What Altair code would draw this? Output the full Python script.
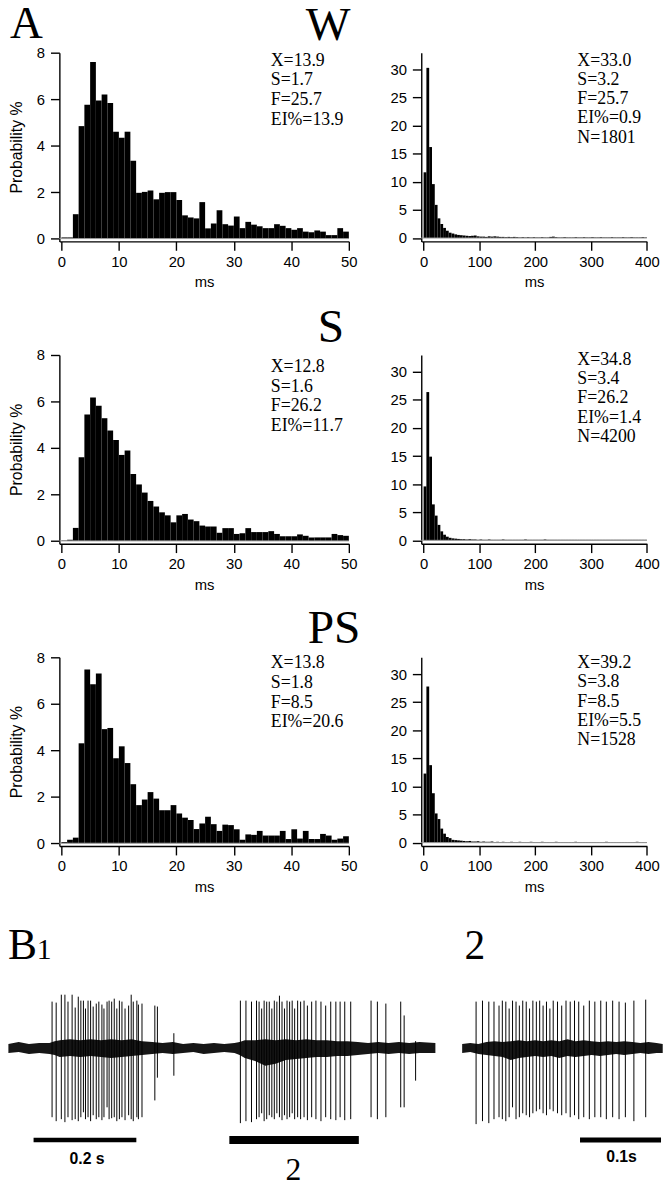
import altair as alt
import pandas as pd

# ---------------- histogram data (probability %) ----------------
SHORT_BIN_START = list(range(0, 50))          # 1 ms bins, 0-50 ms
LONG_BIN_START = list(range(0, 400, 5))       # 5 ms bins, 0-400 ms

W_SHORT = [0.05, 0.05, 1.05, 4.84, 5.76, 7.6, 5.94, 6.2, 5.83, 4.6,
           4.34, 4.6, 3.35, 1.97, 2.01, 2.07, 1.69, 1.97, 2.0, 2.0,
           1.66, 1.0, 0.91, 0.87, 1.57, 0.44, 0.65, 1.22, 0.62, 0.56,
           0.95, 0.45, 0.72, 0.6, 0.53, 0.45, 0.45, 0.62, 0.55, 0.45,
           0.38, 0.45, 0.3, 0.27, 0.35, 0.3, 0.15, 0.15, 0.45, 0.3]
S_SHORT = [0.02, 0.05, 0.56, 3.6, 5.44, 6.17, 5.82, 5.28, 4.75, 4.34,
           3.7, 3.89, 2.88, 2.43, 2.08, 1.72, 1.48, 1.23, 1.1, 0.8,
           1.1, 1.16, 0.92, 0.85, 0.66, 0.62, 0.62, 0.35, 0.55, 0.55,
           0.3, 0.33, 0.55, 0.38, 0.38, 0.38, 0.42, 0.3, 0.2, 0.2,
           0.2, 0.28, 0.22, 0.15, 0.15, 0.15, 0.15, 0.3, 0.25, 0.22]
PS_SHORT = [0.05, 0.15, 0.24, 4.3, 7.48, 6.84, 7.3, 4.91, 4.96, 3.66,
            4.17, 3.45, 2.54, 1.64, 1.88, 2.2, 1.92, 1.42, 1.42, 1.64,
            1.28, 1.1, 1.0, 0.61, 0.85, 1.14, 0.82, 0.53, 0.8, 0.78,
            0.6, 0.15, 0.38, 0.36, 0.53, 0.33, 0.33, 0.33, 0.53, 0.18,
            0.6, 0.2, 0.53, 0.18, 0.18, 0.4, 0.33, 0.15, 0.2, 0.3]

W_LONG = [11.7, 30.3, 16.2, 9.6, 5.9, 3.5, 2.5, 1.8, 1.3, 0.95,
          0.8, 0.65, 0.55, 0.5, 0.45, 0.4, 0.35, 0.4, 0.45, 0.3,
          0.25, 0.25, 0.2, 0.3, 0.25, 0.3, 0.25, 0.2, 0.2, 0.15,
          0.2, 0.15, 0.2, 0.15, 0.1, 0.15, 0.1, 0.15, 0.1, 0.15,
          0.1, 0.1, 0.15, 0.1, 0.1, 0.2, 0.25, 0.15, 0.1, 0.1,
          0.15, 0.1, 0.1, 0.1, 0.15, 0.1, 0.1, 0.15, 0.1, 0.1,
          0.15, 0.1, 0.1, 0.15, 0.1, 0.1, 0.1, 0.15, 0.1, 0.1,
          0.1, 0.15, 0.1, 0.1, 0.15, 0.1, 0.1, 0.1, 0.15, 0.1]
S_LONG = [9.6, 26.4, 14.9, 6.4, 4.4, 2.75, 1.6, 1.0, 0.65, 0.45,
          0.35, 0.3, 0.25, 0.2, 0.2, 0.15, 0.2, 0.15, 0.15, 0.1,
          0.15, 0.1, 0.1, 0.15, 0.1, 0.1, 0.1, 0.1, 0.15, 0.1,
          0.1, 0.1, 0.1, 0.1, 0.1, 0.1, 0.15, 0.1, 0.1, 0.1,
          0.1, 0.1, 0.1, 0.15, 0.1, 0.1, 0.1, 0.1, 0.1, 0.1,
          0.1, 0.1, 0.1, 0.1, 0.1, 0.1, 0.1, 0.1, 0.1, 0.1,
          0.1, 0.1, 0.1, 0.1, 0.1, 0.1, 0.1, 0.1, 0.1, 0.1,
          0.1, 0.1, 0.1, 0.1, 0.1, 0.1, 0.1, 0.1, 0.1, 0.1]
PS_LONG = [12.3, 27.8, 13.8, 8.8, 5.2, 4.2, 2.5, 1.6, 1.0, 0.8,
           0.5, 0.45, 0.4, 0.35, 0.3, 0.25, 0.3, 0.2, 0.2, 0.25,
           0.15, 0.2, 0.15, 0.15, 0.2, 0.1, 0.15, 0.1, 0.15, 0.1,
           0.1, 0.15, 0.1, 0.1, 0.15, 0.1, 0.1, 0.1, 0.15, 0.1,
           0.1, 0.1, 0.15, 0.1, 0.1, 0.1, 0.1, 0.15, 0.1, 0.1,
           0.1, 0.1, 0.1, 0.1, 0.15, 0.1, 0.1, 0.1, 0.1, 0.1,
           0.1, 0.1, 0.1, 0.1, 0.1, 0.15, 0.1, 0.1, 0.1, 0.1,
           0.1, 0.1, 0.1, 0.1, 0.1, 0.1, 0.15, 0.1, 0.1, 0.1]

GROUP_LABELS = ["W", "S", "PS"]
STATS_SHORT = ["X=13.9\nS=1.7\nF=25.7\nEI%=13.9",
               "X=12.8\nS=1.6\nF=26.2\nEI%=11.7",
               "X=13.8\nS=1.8\nF=8.5\nEI%=20.6"]
STATS_LONG = ["X=33.0\nS=3.2\nF=25.7\nEI%=0.9\nN=1801",
              "X=34.8\nS=3.4\nF=26.2\nEI%=1.4\nN=4200",
              "X=39.2\nS=3.8\nF=8.5\nEI%=5.5\nN=1528"]
SHORT_TICKS = [0, 10, 20, 30, 40, 50]
SHORT_YTICKS = [0, 2, 4, 6, 8]
LONG_TICKS = [0, 100, 200, 300, 400]
LONG_YTICKS = [0, 5, 10, 15, 20, 25, 30]

# ---------------- spike trains (B1: time s, peak, trough in trace units) ----------------
T1_SPIKE_T = [0.085, 0.093, 0.103, 0.110, 0.116, 0.124, 0.130, 0.136, 0.141, 0.146,
              0.150, 0.155, 0.160, 0.165, 0.171, 0.176, 0.182, 0.186, 0.192, 0.196,
              0.201, 0.206, 0.211, 0.216, 0.221, 0.227, 0.234, 0.239, 0.243, 0.250,
              0.253, 0.260, 0.285, 0.290, 0.322,
              0.4515, 0.4623, 0.4731, 0.4829, 0.4879, 0.4929, 0.4977, 0.5027, 0.5077, 0.5127,
              0.5175, 0.5225, 0.5275, 0.5325, 0.5373, 0.5423, 0.5473, 0.5523, 0.5571, 0.5629,
              0.5687, 0.5754, 0.5819, 0.5902, 0.5985, 0.6083, 0.6175, 0.6273, 0.6373, 0.6456,
              0.6546, 0.6662, 0.7058, 0.7181, 0.7346, 0.7635, 0.7702, 0.7925]
T1_SPIKE_UP = [47, 46, 54, 54, 47, 54, 41, 52, 48, 48,
               40, 48, 48, 42, 45, 47, 44, 40, 47, 48,
               47, 50, 40, 48, 47, 40, 43, 54, 47, 48,
               44, 45, 43, 42, 15,
               48, 48, 47, 48, 47, 40, 48, 47, 47, 40,
               48, 47, 53, 47, 40, 48, 47, 48, 40, 48,
               47, 48, 43, 47, 48, 47, 43, 47, 47, 47,
               47, 47, 48, 47, 45, 47, 33, 7]
T1_SPIKE_DOWN = [-70, -74, -72, -75, -70, -73, -72, -74, -70, -65,
                 -72, -70, -74, -68, -72, -70, -73, -70, -60, -72,
                 -71, -70, -74, -72, -70, -73, -68, -72, -74, -70,
                 -72, -70, -53, -30, -28,
                 -76, -74, -75, -72, -70, -66, -74, -72, -68, -70,
                 -72, -66, -70, -73, -68, -72, -70, -66, -72, -70,
                 -72, -70, -73, -70, -72, -74, -70, -72, -73, -70,
                 -73, -72, -70, -72, -70, -60, -60, -33]
T2_SPIKE_T = [0.0172, 0.0251, 0.0329, 0.0393, 0.0455, 0.0496, 0.0539, 0.0580, 0.0622, 0.0665,
              0.0706, 0.0748, 0.0791, 0.0832, 0.0873, 0.0916, 0.0957, 0.0999, 0.1041, 0.1083,
              0.1124, 0.1177, 0.1229, 0.1282, 0.1334, 0.1387, 0.1439, 0.1501, 0.1570, 0.1638,
              0.1711, 0.1780, 0.1858, 0.1937, 0.2015, 0.2120, 0.2266]
T2_SPIKE_UP = [47, 48, 47, 47, 43, 48, 47, 40, 48, 47,
               43, 48, 47, 40, 48, 47, 48, 43, 47, 40,
               48, 47, 43, 48, 47, 48, 47, 43, 48, 47,
               48, 47, 48, 47, 46, 48, 49]
T2_SPIKE_DOWN = [-77, -74, -76, -72, -70, -72, -74, -70, -60, -72,
                 -70, -66, -68, -70, -66, -64, -62, -66, -68, -62,
                 -64, -66, -68, -66, -70, -68, -72, -70, -72, -70,
                 -70, -72, -70, -72, -70, -74, -70]
# baseline noise envelope (time s, lower, upper)
T1_NOISE_T = [0.0, 0.02, 0.04, 0.06, 0.08, 0.09, 0.10, 0.12, 0.14, 0.16, 0.18, 0.20,
              0.22, 0.24, 0.26, 0.28, 0.30, 0.32, 0.34, 0.36, 0.38, 0.40, 0.42, 0.44,
              0.45, 0.46, 0.48, 0.50, 0.52, 0.54, 0.56, 0.58, 0.60, 0.62, 0.64, 0.66,
              0.68, 0.70, 0.72, 0.74, 0.76, 0.78, 0.80, 0.831]
T1_NOISE_HI = [4, 6, 4, 5, 5, 7, 8, 9, 8, 9, 8, 9,
               8, 9, 7, 6, 5, 6, 4, 5, 4, 5, 4, 5,
               6, 8, 8, 9, 8, 9, 8, 9, 8, 8, 7, 7,
               6, 5, 6, 5, 6, 5, 6, 5]
T1_NOISE_LO = [-5, -4, -6, -5, -6, -7, -9, -8, -9, -8, -9, -10,
               -9, -8, -7, -6, -5, -6, -5, -4, -6, -5, -4, -5,
               -7, -10, -13, -18, -16, -12, -11, -10, -9, -9, -8, -8,
               -7, -6, -5, -6, -5, -6, -5, -5]
T2_NOISE_T = [0.0, 0.01, 0.02, 0.03, 0.04, 0.05, 0.06, 0.07, 0.08, 0.09, 0.10, 0.11,
              0.12, 0.13, 0.14, 0.15, 0.16, 0.17, 0.18, 0.19, 0.20, 0.21, 0.22, 0.23,
              0.24, 0.2476]
T2_NOISE_HI = [4, 5, 4, 6, 7, 6, 7, 8, 7, 8, 7, 8, 7, 9, 7, 8, 7, 6, 7, 6, 7, 6, 5, 6, 5, 4]
T2_NOISE_LO = [-5, -4, -6, -7, -8, -9, -12, -10, -9, -8, -9, -8, -10, -8, -9, -8, -7, -8,
               -7, -6, -7, -6, -5, -6, -5, -5]
# scale bars (s) and their labels
T1_BARS = [(0.049, 0.249, 4.5, "0.2 s"), (0.430, 0.682, 8, "2")]
T2_BAR = (0.1455, 0.2455, 5, "0.1s")

# ---------------- styling ----------------
SANS = "Liberation Sans"
SERIF = "Liberation Serif"
LW, LH = 293, 191          # short-interval panel
RW, RH = 228.4, 191        # long-interval panel


def axis(values, title, title_pad=6, label_pad=4, title_size=15):
    return alt.Axis(values=values, grid=False, domainColor="black", domainWidth=1.4,
                    tickColor="black", tickWidth=1.4, tickSize=9, labelFont=SANS,
                    labelFontSize=15, labelColor="black", labelPadding=label_pad,
                    labelFlush=False, labelOverlap=False,
                    title=title, titleFont=SANS, titleFontSize=title_size,
                    titleFontWeight="normal", titleColor="black", titlePadding=title_pad)


def hist_df(starts, width, vals):
    return pd.DataFrame({"start": starts, "end": [s + width for s in starts], "p": vals})


def panel(vals, starts, width, xdom, ydom, xticks, yticks, ytitle):
    xs = alt.Scale(domain=xdom, nice=False, zero=False)
    ys = alt.Scale(domain=ydom, nice=False, zero=False)
    xa = axis(xticks, "ms", 6, 4)
    ya = axis(yticks, ytitle, 12, 6, 16)
    df = hist_df(starts, width, vals)
    bars = alt.Chart(df).mark_rect(color="black").encode(
        x=alt.X("start:Q", scale=xs, axis=xa), x2="end:Q",
        y=alt.Y("p:Q", scale=ys, axis=ya), y2=alt.datum(0))
    zdf = pd.DataFrame({"start": [xdom[0]], "end": [xdom[1]], "p": [0]})
    zero = alt.Chart(zdf).mark_rule(color="#9a9a9a", strokeWidth=1).encode(
        x=alt.X("start:Q", scale=xs, axis=xa), x2="end:Q",
        y=alt.Y("p:Q", scale=ys, axis=ya))
    return [bars, zero]


def text_layer(txt, x, y, font, size, align="left", baseline="alphabetic",
               weight="normal", line_height=None):
    kw = dict(font=font, fontSize=size, fontWeight=weight, align=align,
              baseline=baseline, color="black")
    if line_height is not None:
        kw.update(lineBreak="\n", lineHeight=line_height)
    return alt.Chart(pd.DataFrame({"t": [txt]})).mark_text(**kw).encode(
        text="t:N", x=alt.value(x), y=alt.value(y))


def short_panel(i, vals):
    layers = panel(vals, SHORT_BIN_START, 1, [-0.35, 50], [-0.12, 8],
                   SHORT_TICKS, SHORT_YTICKS, "Probability %")
    layers.append(text_layer(STATS_SHORT[i], 214, [-1, 3, -3][i], SERIF, 18,
                             baseline="top", line_height=20))
    layers.append(text_layer(GROUP_LABELS[i], [272, 275, 278][i], [-13, -13, -14.5][i],
                             SERIF, 48, align="center"))
    if i == 0:
        layers.append(text_layer("A", -50, -15, SERIF, 46))
    return alt.layer(*layers).properties(width=LW, height=LH)


def long_panel(i, vals):
    layers = panel(vals, LONG_BIN_START, 5, [-4.2, 400], [-0.6, 33],
                   LONG_TICKS, LONG_YTICKS, None)
    layers.append(text_layer(STATS_LONG[i], 158, [-1, -4, -3][i], SERIF, 18,
                             baseline="top", line_height=19.5))
    return alt.layer(*layers).properties(width=RW, height=RH)


# ---------------- B section ----------------
BW, BH = LW, 224.5
ys_b = alt.Scale(domain=[-135, 89.5], nice=False, zero=False)
xs1 = alt.Scale(domain=[0, 0.831], range=[-51.6, 380.6], nice=False, zero=False)
xs2 = alt.Scale(domain=[0, 0.2476], range=[407.7, 610.7], nice=False, zero=False)


def trace_layers(xs, nt, nlo, nhi, st, sup, sdown):
    noise = alt.Chart(pd.DataFrame({"t": nt, "lo": nlo, "hi": nhi})).mark_area(
        color="#161616", interpolate="linear").encode(
        x=alt.X("t:Q", scale=xs, axis=None), y=alt.Y("lo:Q", scale=ys_b, axis=None), y2="hi:Q")
    spikes = alt.Chart(pd.DataFrame({"t": st, "up": sup, "down": sdown})).mark_rule(
        color="black", strokeWidth=1).encode(
        x=alt.X("t:Q", scale=xs, axis=None), y=alt.Y("up:Q", scale=ys_b, axis=None), y2="down:Q")
    return [noise, spikes]


def bar_layer(xs, t0, t1, w):
    return alt.Chart(pd.DataFrame({"t0": [t0], "t1": [t1], "y": [-93]})).mark_rule(
        color="black", strokeWidth=w).encode(
        x=alt.X("t0:Q", scale=xs, axis=None), x2="t1:Q", y=alt.Y("y:Q", scale=ys_b, axis=None))


b_layers = []
b_layers += trace_layers(xs1, T1_NOISE_T, T1_NOISE_LO, T1_NOISE_HI, T1_SPIKE_T, T1_SPIKE_UP, T1_SPIKE_DOWN)
b_layers += trace_layers(xs2, T2_NOISE_T, T2_NOISE_LO, T2_NOISE_HI, T2_SPIKE_T, T2_SPIKE_UP, T2_SPIKE_DOWN)
for t0, t1, w, _ in T1_BARS:
    b_layers.append(bar_layer(xs1, t0, t1, w))
b_layers.append(bar_layer(xs2, T2_BAR[0], T2_BAR[1], T2_BAR[2]))
b_layers += [
    text_layer("B", -52, -0.5, SERIF, 44),
    text_layer("1", -23, -0.5, SERIF, 30),
    text_layer("2", 410, -0.5, SERIF, 42),
    text_layer(T1_BARS[0][3], 28, 201.5, SANS, 16, align="center", baseline="middle", weight="bold"),
    text_layer(T1_BARS[1][3], 237, 223.5, SERIF, 32, align="center"),
    text_layer(T2_BAR[3], 569, 200, SANS, 16, align="center", baseline="middle", weight="bold"),
]
b_block = alt.layer(*b_layers).resolve_scale(x="independent").properties(width=BW, height=BH)

cells = []
for i, (sv, lv) in enumerate([(W_SHORT, W_LONG), (S_SHORT, S_LONG), (PS_SHORT, PS_LONG)]):
    cells += [short_panel(i, sv), long_panel(i, lv)]
cells.append(b_block)

chart = alt.concat(*cells, columns=2, spacing={"row": 115, "column": 73.3},
                   bounds="flush").properties(
    padding={"left": 0, "top": -14, "right": 0, "bottom": 0},
    background="white").configure_view(stroke=None)

chart.save("out.html", embed_options={"renderer": "svg", "actions": False})
